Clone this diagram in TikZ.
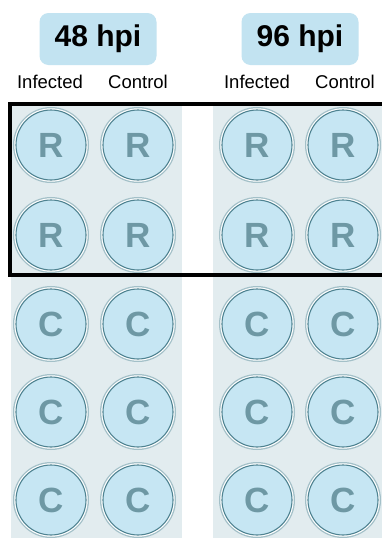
\documentclass[tikz,border=0pt]{standalone}
\usepackage{fontspec}
\setmainfont{Liberation Sans}
\usepackage{xcolor}
\usetikzlibrary{positioning}
\definecolor{panelgrey}{HTML}{E2ECEF}
\definecolor{wellblue}{HTML}{C6E6F3}
\definecolor{welledge}{HTML}{4F8391}
\definecolor{wellhalo}{HTML}{A3C0C8}
\definecolor{wellletter}{HTML}{6E98A4}
\definecolor{tagblue}{HTML}{C2E3F1}

\begin{document}
\begin{tikzpicture}[x=1pt,y=-1pt, every node/.style={align=center,inner sep=0pt},
  well/.style={circle,minimum size=70pt,fill=wellblue,draw=welledge,line width=1.1pt,
    preaction={draw=wellhalo,line width=6pt},preaction={draw=white,line width=3.4pt},
    text=wellletter,font=\fontsize{35}{35}\selectfont\bfseries},
  tag/.style={fill=tagblue,rounded corners=9pt,minimum width=117pt,minimum height=52pt,font=\fontsize{30}{30}\selectfont\bfseries},
  colname/.style={font=\fontsize{18.5}{18.5}\selectfont}]
\useasboundingbox (0,0) rectangle (382,538);
\fill[white] (0,0) rectangle (382,538);
% plate strips
\fill[panelgrey] (11,103) rectangle (182,538);
\fill[panelgrey] (213,103) rectangle (390,538);
% time points
\node[tag] (t48) at (98,39) {48 hpi};
\node[tag] (t96) at (300,39) {96 hpi};
\node[colname] (inf48) at (50,82) {Infected};
\node[colname] (ctl48) at (138,82) {Control};
\node[colname] (inf96) at (257,82) {Infected};
\node[colname] (ctl96) at (345,82) {Control};
% wells
\foreach \x/\c in {51/1,138/2,257/3,343/4}{
  \foreach \y/\r/\l in {145/1/R,235/2/R,324/3/C,412/4/C,500/5/C}
    \node[well] (w\r\c) at (\x,\y) {\l};
}
% RNA box
\draw[line width=4pt] (10,104) rectangle (395,275);
\end{tikzpicture}
\end{document}
